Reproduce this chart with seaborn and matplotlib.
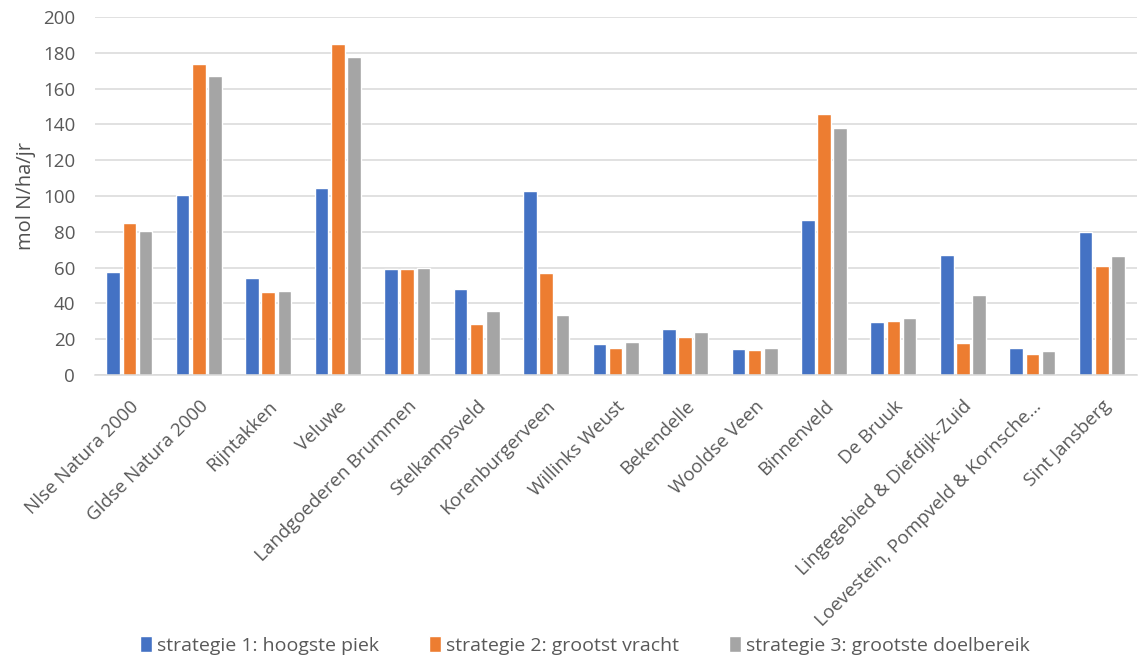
import matplotlib
matplotlib.use("Agg")
import matplotlib.pyplot as plt
import seaborn as sns
import pandas as pd

# Natura 2000 areas and deposition per strategy (mol N/ha/jr)
gebieden = [
    "Nlse Natura 2000", "Gldse Natura 2000", "Rijntakken", "Veluwe",
    "Landgoederen Brummen", "Stelkampsveld", "Korenburgerveen",
    "Willinks Weust", "Bekendelle", "Wooldse Veen", "Binnenveld",
    "De Bruuk", "Lingegebied & Diefdijk-Zuid",
    "Loevestein, Pompveld & Kornsche…", "Sint Jansberg",
]
strategie_1 = [57.5, 100.5, 54, 104.5, 59.5, 48, 103, 17.5, 25.5, 14.7,
               86.7, 29.5, 67, 15.3, 79.7]
strategie_2 = [85, 174, 46.5, 185, 59.5, 28.5, 57, 15.3, 21, 14.2,
               145.7, 30.3, 18, 12, 60.7]
strategie_3 = [80.3, 167, 47, 177.8, 60, 35.5, 33.5, 18.5, 23.8, 15.3,
               138, 32, 44.7, 13.4, 66.5]
reeksen = [
    "strategie 1: hoogste piek",
    "strategie 2: grootst vracht",
    "strategie 3: grootste doelbereik",
]
kleuren = ["#4472C4", "#ED7D31", "#A5A5A5"]
y_ticks = [0, 20, 40, 60, 80, 100, 120, 140, 160, 180, 200]

df = pd.DataFrame({
    "gebied": gebieden * 3,
    "waarde": strategie_1 + strategie_2 + strategie_3,
    "strategie": [reeksen[0]] * len(gebieden) + [reeksen[1]] * len(gebieden)
                 + [reeksen[2]] * len(gebieden),
})

sns.set_theme(style="white")
plt.rcParams["font.family"] = ["Open Sans", "DejaVu Sans"]
tekst = "#595959"

fig = plt.figure(figsize=(11.4, 6.59), dpi=100)
ax = fig.add_axes([0.083, 0.431, 0.914, 0.543])

sns.barplot(data=df, x="gebied", y="waarde", hue="strategie",
            hue_order=reeksen, order=gebieden, palette=kleuren,
            width=0.7, gap=0.16, saturation=1, ax=ax, legend=True)

ax.set_ylim(0, 200)
ax.set_yticks(y_ticks)
ax.yaxis.grid(True, color="#D9D9D9", linewidth=1.1)
ax.set_axisbelow(True)
for side in ["top", "right", "left"]:
    ax.spines[side].set_visible(False)
ax.spines["bottom"].set_color("#D9D9D9")
ax.spines["bottom"].set_linewidth(1.1)
ax.tick_params(axis="both", length=0, colors=tekst, labelsize=13.5)
ax.tick_params(axis="y", pad=14)
ax.tick_params(axis="x", pad=16)
ax.set_xlabel("")
ax.set_ylabel("mol N/ha/jr", color="#505050", fontsize=14.5, labelpad=5)

ax.set_xticks(range(len(gebieden)))
ax.set_xticklabels(gebieden, rotation=45, ha="right",
                   rotation_mode="anchor", color=tekst, fontsize=13.5)

ax.legend_.remove()
handles, labels = ax.get_legend_handles_labels()
fig.legend(handles, labels, loc="lower center", ncol=3,
           bbox_to_anchor=(0.513, -0.02), frameon=False, fontsize=14,
           handlelength=0.6, handleheight=0.85, handletextpad=0.25,
           columnspacing=2.6, labelcolor=tekst)

fig.savefig("out.png", dpi=100)
